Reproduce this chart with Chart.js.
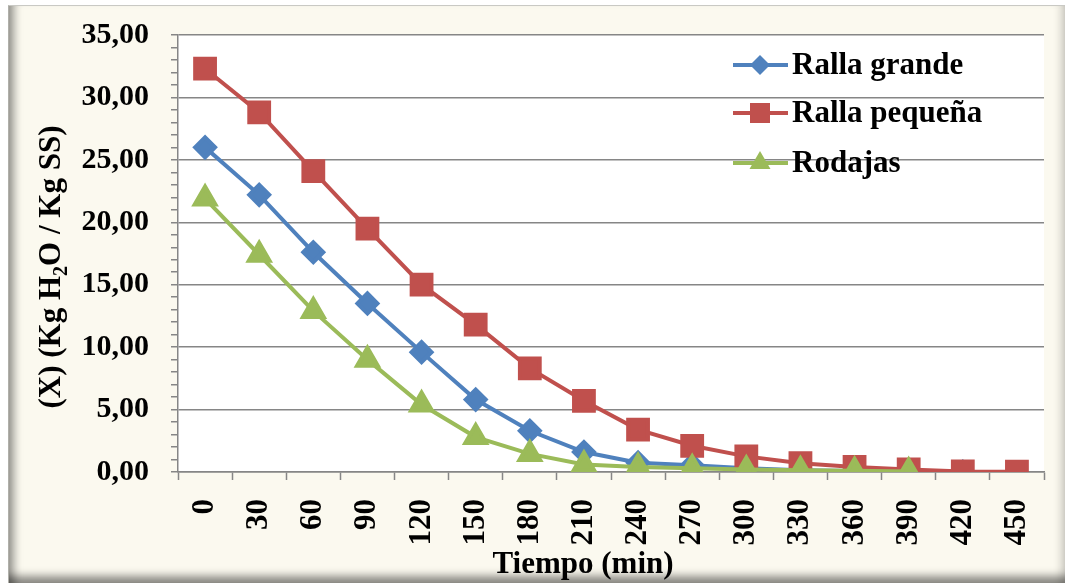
<!DOCTYPE html>
<html lang="es">
<head>
<meta charset="UTF-8">
<title>Curva de secado</title>
<script src="https://cdn.jsdelivr.net/npm/chart.js"></script>
<style>
    body { margin: 0; background: #ffffff; }
    .marco {
        position: absolute; left: 8px; top: 5px; width: 1057px; height: 578px;
        background: #FBF9EF;
        border-top: 1px solid #c9c9c4; border-left: 1px solid #b0b0aa;
        box-sizing: border-box;
        box-shadow: inset 12px 0 8px -7px rgba(0,0,0,0.4),
                    inset 0 -13px 8px -6px rgba(0,0,0,0.45),
                    inset -11px 0 8px -7px rgba(0,0,0,0.18);
    }
    canvas { position: absolute; left: 0; top: 0; }
</style>
</head>
<body>
<div class="marco"></div>
<canvas id="grafico" width="1065" height="583"></canvas>
<script>
    // datos
    const tiempos = ['0', '30', '60', '90', '120', '150', '180', '210', '240', '270', '300', '330', '360', '390', '420', '450'];
    const rallaGrande = [26.0, 22.2, 17.6, 13.5, 9.6, 5.8, 3.3, 1.6, 0.75, 0.55, 0.3, 0.15, 0.08, 0.05, 0.02, null];
    const rallaPequena = [32.3, 28.8, 24.1, 19.5, 15.0, 11.8, 8.3, 5.7, 3.4, 2.1, 1.25, 0.7, 0.4, 0.2, 0.05, 0.02];
    const rodajas = [21.9, 17.4, 12.9, 9.0, 5.4, 2.8, 1.45, 0.6, 0.4, 0.3, 0.2, 0.15, 0.1, 0.05, null, null];
    const nombres = ['Ralla grande', 'Ralla pequeña', 'Rodajas'];
    const colores = ['#4F81BD', '#C0504D', '#9BBB59'];

    const fuente = '"Liberation Serif", "Times New Roman", serif';
    const gris = '#868686';

    function formatoY(v) {
        return v.toFixed(2).replace('.', ',');
    }

    // leyenda y titulos de ejes dibujados a mano
    const extras = {
        id: 'extras',
        afterDraw(chart) {
            const ctx = chart.ctx;
            ctx.save();
            ctx.fillStyle = '#000';
            ctx.textBaseline = 'alphabetic';

            // titulo eje X
            ctx.font = 'bold 31px ' + fuente;
            ctx.textAlign = 'center';
            ctx.fillText('Tiempo (min)', 583, 573);

            // titulo eje Y con subindice
            ctx.translate(60, 267);
            ctx.rotate(-Math.PI / 2);
            const partes = [['(X) (Kg H', 31, 0], ['2', 20, 7], ['O / Kg SS)', 31, 0]];
            let total = 0;
            partes.forEach(p => { ctx.font = 'bold ' + p[1] + 'px ' + fuente; total += ctx.measureText(p[0]).width; });
            let x = -total / 2;
            ctx.textAlign = 'left';
            partes.forEach(p => {
                ctx.font = 'bold ' + p[1] + 'px ' + fuente;
                ctx.fillText(p[0], x, p[2]);
                x += ctx.measureText(p[0]).width;
            });
            ctx.restore();

            // leyenda
            ctx.save();
            const filas = [65, 113, 163];
            chart.data.datasets.forEach((ds, i) => {
                const y = filas[i];
                ctx.strokeStyle = ds.borderColor;
                ctx.lineWidth = 4;
                ctx.beginPath();
                ctx.moveTo(733, y);
                ctx.lineTo(788, y);
                ctx.stroke();
                ctx.fillStyle = ds.borderColor;
                ctx.beginPath();
                const cx = 760;
                if (ds.pointStyle === 'rectRot') {
                    ctx.moveTo(cx - 10, y); ctx.lineTo(cx, y - 10); ctx.lineTo(cx + 10, y); ctx.lineTo(cx, y + 10);
                } else if (ds.pointStyle === 'rect') {
                    ctx.rect(cx - 10, y - 10, 20, 20);
                } else {
                    ctx.moveTo(cx, y - 12); ctx.lineTo(cx + 10.5, y + 6); ctx.lineTo(cx - 10.5, y + 6);
                }
                ctx.closePath();
                ctx.fill();
                ctx.fillStyle = '#000';
                ctx.font = 'bold 31px ' + fuente;
                ctx.textAlign = 'left';
                ctx.textBaseline = 'middle';
                ctx.fillText(nombres[i], 792, y + 1);
            });
            ctx.restore();
        }
    };

    // fondo blanco del area de trazado
    const fondoArea = {
        id: 'fondoArea',
        beforeDraw(chart) {
            const a = chart.chartArea;
            chart.ctx.save();
            chart.ctx.fillStyle = '#ffffff';
            chart.ctx.fillRect(a.left, a.top, a.right - a.left, a.bottom - a.top);
            chart.ctx.restore();
        }
    };

    new Chart(document.getElementById('grafico'), {
        type: 'line',
        data: {
            labels: tiempos,
            datasets: [
                { label: nombres[0], data: rallaGrande, borderColor: colores[0], backgroundColor: colores[0],
                  pointStyle: 'rectRot', pointRadius: 10, borderWidth: 4, order: 2 },
                { label: nombres[1], data: rallaPequena, borderColor: colores[1], backgroundColor: colores[1],
                  pointStyle: 'rect', pointRadius: 14, borderWidth: 4, order: 1 },
                { label: nombres[2], data: rodajas, borderColor: colores[2], backgroundColor: colores[2],
                  pointStyle: 'triangle', pointRadius: 12, borderWidth: 4, order: 0 }
            ]
        },
        options: {
            responsive: false,
            animation: false,
            layout: { padding: { top: 35, right: 21, left: 0, bottom: 0 } },
            elements: { line: { tension: 0 }, point: { borderWidth: 0 } },
            plugins: { legend: { display: false }, tooltip: { enabled: false } },
            scales: {
                x: {
                    offset: true,
                    grid: { offset: true, drawOnChartArea: false, tickLength: 8, tickColor: gris, tickWidth: 1.5 },
                    border: { color: gris, width: 1.5 },
                    ticks: {
                        color: '#000', font: { family: fuente, size: 31, weight: 'bold' },
                        minRotation: 90, maxRotation: 90, autoSkip: false, padding: 19
                    },
                    afterFit(scale) {
                        scale.height = 111;
                        scale.paddingLeft = 0;
                        scale.paddingRight = 0;
                    }
                },
                y: {
                    min: 0, max: 35,
                    grid: {
                        color: ctx => (ctx.tick && ctx.tick.value % 5 === 0) ? gris : 'rgba(0,0,0,0)',
                        lineWidth: 1.5, tickLength: 7, tickColor: gris, tickWidth: 1.5
                    },
                    border: { color: gris, width: 1.5 },
                    ticks: {
                        stepSize: 1, autoSkip: false, padding: 22, color: '#000',
                        font: { family: fuente, size: 30, weight: 'bold' },
                        callback: v => (v % 5 === 0 ? formatoY(v) : '')
                    },
                    afterFit(scale) {
                        scale.width = 178;
                        scale.paddingTop = 0;
                        scale.paddingBottom = 0;
                    }
                }
            }
        },
        plugins: [fondoArea, extras]
    });
</script>
</body>
</html>
